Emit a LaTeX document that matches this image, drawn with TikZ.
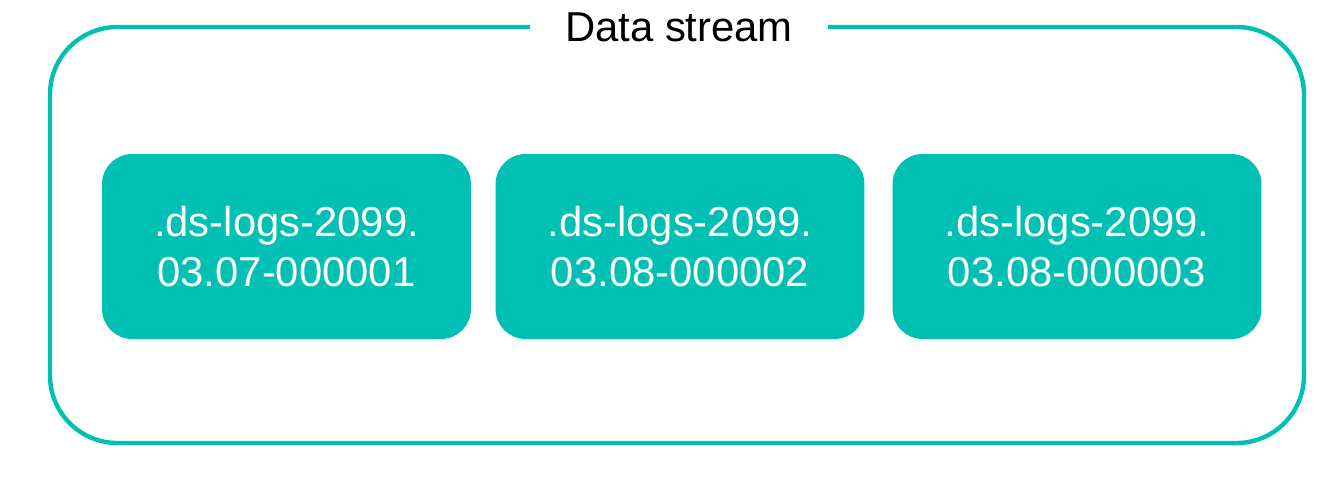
\documentclass[tikz,border=0pt]{standalone}
\usepackage{fontspec}
\setmainfont{Liberation Sans}
\usepackage{tikz}
\usetikzlibrary{positioning}
\definecolor{dsteal}{RGB}{0,191,179}

\begin{document}
\begin{tikzpicture}[x=0.02cm, y=-0.02cm, index node/.style={rectangle,rounded corners=0.6cm,fill=dsteal,text=white,minimum width=7.38cm,minimum height=3.7cm,align=center,inner sep=0pt,font=\fontsize{23.8}{28}\selectfont}]%
\useasboundingbox (0,0) rectangle (1336,488);
\begin{scope}
\draw[dsteal, line width=2.5pt, rounded corners=1.35cm] (50,27) rectangle (1304,443);
\node[fill=white, minimum width=5.96cm, inner sep=0pt, font=\fontsize{23.8}{28}\selectfont] (title) at (679,27) {Data stream};
\end{scope}
\begin{scope}
\node[index node] (i1) at (286.5,246.5) {.ds-logs-2099.\\03.07-000001};
\node[index node] (i2) at (680,246.5) {.ds-logs-2099.\\03.08-000002};
\node[index node] (i3) at (1077,246.5) {.ds-logs-2099.\\03.08-000003};
\end{scope}
\end{tikzpicture}
\end{document}
